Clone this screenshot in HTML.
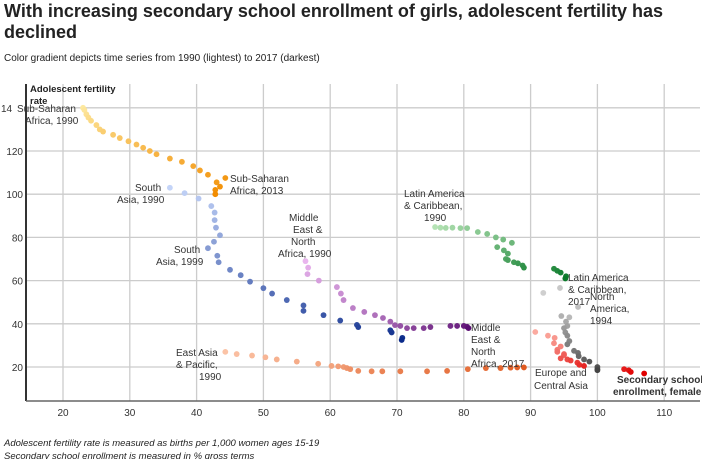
<!DOCTYPE html>
<html><head><meta charset="utf-8"><style>
body{margin:0;background:#fff;width:702px;height:459px;overflow:hidden;font-family:"Liberation Sans",Arial,sans-serif}
</style></head><body>
<svg id="s" width="702" height="459" xmlns="http://www.w3.org/2000/svg" font-family="Liberation Sans, Arial, sans-serif">
<text x="4" y="17" font-size="18" font-weight="bold" fill="#222">With increasing secondary school enrollment of girls, adolescent fertility has</text>
<text x="4" y="38" font-size="18" font-weight="bold" fill="#222">declined</text>
<text x="4" y="61" font-size="10" fill="#222">Color gradient depicts time series from 1990 (lightest) to 2017 (darkest)</text>
<g id="grid"></g>
<g id="pts"></g>
<line x1="26" y1="84" x2="26" y2="401" stroke="#333" stroke-width="2"/>
<line x1="26" y1="401" x2="700" y2="401" stroke="#666" stroke-width="1.5"/>
<text x="30" y="92" font-size="9.5" font-weight="bold" fill="#222">Adolescent fertility</text>
<text x="30" y="104" font-size="9.5" font-weight="bold" fill="#222">rate</text>
<g font-size="10" fill="#333">
<text x="1" y="112" font-size="10">14</text>
<text x="17" y="112">Sub-Saharan</text><text x="25" y="124">Africa, 1990</text>
<text x="230" y="182">Sub-Saharan</text><text x="230" y="194">Africa, 2013</text>
<text x="135" y="191">South</text><text x="117" y="203">Asia, 1990</text>
<text x="174" y="253">South</text><text x="156" y="265">Asia, 1999</text>
<text x="289" y="221">Middle</text><text x="293" y="233">East &amp;</text><text x="291" y="245">North</text><text x="278" y="257">Africa, 1990</text>
<text x="404" y="197">Latin America</text><text x="404" y="209">&amp; Caribbean,</text><text x="424" y="221">1990</text>
<text x="176" y="356">East Asia</text><text x="176" y="368">&amp; Pacific,</text><text x="199" y="380">1990</text>
<text x="471" y="331">Middle</text><text x="471" y="343">East &amp;</text><text x="471" y="355">North</text><text x="471" y="367">Africa, 2017</text>
<text x="568" y="281">Latin America</text><text x="568" y="293">&amp; Caribbean,</text><text x="568" y="305">2017</text>
<text x="590" y="300">North</text><text x="590" y="312">America,</text><text x="590" y="324">1994</text>
<text x="535" y="376">Europe and</text><text x="534" y="389">Central Asia</text>
<text x="617" y="383" font-weight="bold">Secondary school</text><text x="613" y="395" font-weight="bold">enrollment, female</text>
</g>
<text x="4" y="446" font-size="9.5" font-style="italic" fill="#222">Adolescent fertility rate is measured as births per 1,000 women ages 15-19</text>
<text x="4" y="459" font-size="9.5" font-style="italic" fill="#222">Secondary school enrollment is measured in % gross terms</text>
</svg>
<script>
const X=v=>-70.6+6.68*v, Y=v=>367-(v-20)*2.16;
const NS="http://www.w3.org/2000/svg";
const g=document.getElementById('grid');
function el(p,t,a){const e=document.createElementNS(NS,t);for(const k in a)e.setAttribute(k,a[k]);p.appendChild(e);return e;}
for(let v=20;v<=110;v+=10){el(g,'line',{x1:X(v),x2:X(v),y1:84,y2:401,stroke:'#ccc','stroke-width':1.3});const t=el(g,'text',{x:X(v),y:416,'font-size':10,'text-anchor':'middle',fill:'#333'});t.textContent=v;}
for(let v=20;v<=140;v+=20){el(g,'line',{x1:26,x2:700,y1:Y(v),y2:Y(v),stroke:'#ccc','stroke-width':1.3});if(v<140){const t=el(g,'text',{x:23,y:Y(v)+4,'font-size':10,'text-anchor':'end',fill:'#333'});t.textContent=v;}}
const S=[
[[253,233,160],[242,140,0],"23,140;23.2,139;23.5,137;23.8,135.5;24.2,134;25,132;25.5,130;26,129;27.5,127.5;28.5,126;29.8,124.5;31,123;32,121.5;33,120;34,118.5;36,116.5;37.8,115;39.5,113;40.5,111;41.7,109;43,105.5;44.3,107.5;43.5,103.5;42.8,102;42.8,100"],
[[196,212,248],[10,42,138],"36,103;38.2,100.5;40.3,98;42.2,94.5;42.7,91.5;42.7,88;42.9,84.5;43.5,81;42.6,78;41.7,75;43.1,71.5;43.3,68.5;45,65;46.6,62.5;48,59.5;50,56.5;51.3,54;53.5,51;56,48.5;56,46;59,44;61.5,41.5;64,39.5;64.2,38.5;69,37;69.2,36;70.8,33.5;70.7,32.5"],
[[233,181,238],[90,14,114],"56.3,69;56.7,66;56.6,63;58.3,60;61,57;61.6,54;62,51;63.4,47.3;65.1,45.5;66.7,44;67.9,42.7;69,41;69.7,39.4;70.5,39;71.5,38;72.5,38;74,38;75,38.5;78,39;79,39;80,39;80.5,38.6;80.7,38"],
[[251,195,166],[224,90,32],"44.3,27;46,26;48.3,25.3;50.3,24.5;52,23.5;55,22.5;58.2,21.5;60.2,20.5;61.2,20.3;62,20;62.5,19.5;63,19;64.2,18.2;66.2,18;67.8,18;70.5,18;74.5,18;77.5,18.2;80.6,19;83.3,19.5;85.5,19.5;87,19.7;88,19.8;89,19.8"],
[[181,227,181],[10,122,42],"75.7,84.8;76.5,84.5;77.3,84.4;78.3,84.5;79.5,84.3;80.5,84.3;82.1,82.5;83.5,81.6;84.8,80;85.9,79;87.2,77.5;85,75.5;86,74;86.6,72.5;86.3,70;86.6,69.5;87.5,68.5;88.1,68;88.8,67;89,66;93.5,65.5;94,64.5;94.5,63.7;95.3,62;95.2,61"],
[[207,207,207],[68,68,68],"91.9,54.3;94.4,56.6;97.1,47.8;95.8,43;94.6,43.6;95.3,41;95.5,39;95,38;95.2,36;95.5,34.5;95.8,32;95.5,30.5;96.5,27.5;97.1,26.5;97.2,25;98,23.5;98.8,22.5;100,20;100,19;100,18.5"],
[[251,170,160],[224,0,0],"90.7,36.2;92.6,34.5;93.6,33.5;93.5,31;94.5,29.5;94,28;94,27;95,26;95,25.5;94.5,24;95.5,23.5;96,23;97,22;97.3,21;98,20.5;104,19;104.7,18.5;105,17.7;107,17"]];
const P=document.getElementById('pts');
S.forEach(([a,b,d])=>{const p=d.split(';');p.forEach((q,i)=>{const [x,y]=q.split(',').map(Number);const t=i/(p.length-1);const c=a.map((v,k)=>Math.round(v+(b[k]-v)*t));el(P,'circle',{cx:X(x),cy:Y(y),r:2.9,fill:`rgb(${c})`});});});
</script>
</body></html>
